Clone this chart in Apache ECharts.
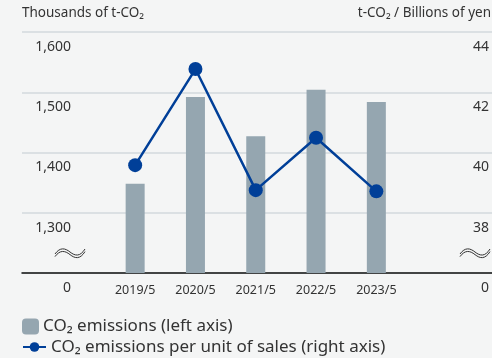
<!DOCTYPE html>
<html>
<head>
<meta charset="utf-8">
<script src="https://cdn.jsdelivr.net/npm/echarts@6/dist/echarts.min.js"></script>
<style>
html,body{margin:0;padding:0;background:#f4f5f5;}
#c{width:492px;height:358px;}
</style>
</head>
<body>
<div id="c"></div>
<script>
const categories = ['2019/5', '2020/5', '2021/5', '2022/5', '2023/5'];
const emissions = [1348, 1492, 1427, 1504, 1484];
const intensity = [39.58, 42.77, 38.75, 40.49, 38.71];
const leftTicks = {min: 1200, max: 1600, interval: 100};
const rightTicks = {min: 36, max: 44, interval: 2};
const barName = 'CO₂ emissions (left axis)';
const lineName = 'CO₂ emissions per unit of sales (right axis)';
const leftTitle = 'Thousands of t-CO₂';
const rightTitle = 't-CO₂ / Billions of yen';

const FONT = '"Noto Sans", "Open Sans", sans-serif';
const TXT = '#333333';

function fmtLeft(v){ return v === leftTicks.min ? '0' : v.toLocaleString('en-US'); }
function fmtRight(v){ return v === rightTicks.min ? '0' : String(v); }

function wave(dy){
  const st = {fill: 'none', stroke: '#333', lineWidth: 1};
  return [
    {type: 'bezierCurve', y: dy, shape: {x1: 0, y1: 6, cpx1: 5, cpy1: -1, cpx2: 10, cpy2: 0, x2: 15, y2: 4}, style: st},
    {type: 'bezierCurve', y: dy, shape: {x1: 15, y1: 4, cpx1: 20, cpy1: 8, cpx2: 25, cpy2: 9, x2: 30, y2: 1}, style: st}
  ];
}
function squiggle(x, y){
  return {type: 'group', x: x, y: y, silent: true, children: wave(0).concat(wave(2.6))};
}

const chart = echarts.init(document.getElementById('c'), null, {renderer: 'canvas'});
chart.setOption({
  backgroundColor: '#f4f5f5',
  animation: false,
  textStyle: {fontFamily: FONT, color: TXT},
  grid: [
    {left: 22, right: 0, top: 32, bottom: 85},
    {left: 105, right: 85.5, top: 32, bottom: 85}
  ],
  xAxis: [
    {gridIndex: 0, type: 'value', min: 0, max: 1,
     axisLine: {show: true, onZero: false, lineStyle: {color: '#111', width: 1.5}},
     axisTick: {show: false}, axisLabel: {show: false}, splitLine: {show: false}},
    {gridIndex: 1, type: 'category', data: categories,
     axisLine: {show: false}, axisTick: {show: false},
     axisLabel: {color: TXT, fontFamily: FONT, fontSize: 12.5, margin: 11}}
  ],
  yAxis: [
    {gridIndex: 0, type: 'value', position: 'left', min: leftTicks.min, max: leftTicks.max, interval: leftTicks.interval,
     axisLine: {show: false}, axisTick: {show: false},
     splitLine: {show: true, lineStyle: {color: '#d3d8dc', width: 1.5}},
     axisLabel: {inside: true, align: 'right', verticalAlign: 'top', margin: 49, padding: [8, 0, 0, 0],
                 color: TXT, fontFamily: FONT, fontSize: 14, formatter: fmtLeft}},
    {gridIndex: 0, type: 'value', position: 'right', min: rightTicks.min, max: rightTicks.max, interval: rightTicks.interval,
     axisLine: {show: false}, axisTick: {show: false}, splitLine: {show: false},
     axisLabel: {inside: true, align: 'right', verticalAlign: 'top', margin: 3, padding: [8, 0, 0, 0],
                 color: TXT, fontFamily: FONT, fontSize: 14, formatter: fmtRight}},
    {gridIndex: 1, type: 'value', min: leftTicks.min, max: leftTicks.max, interval: leftTicks.interval, show: false},
    {gridIndex: 1, type: 'value', min: rightTicks.min, max: rightTicks.max, interval: rightTicks.interval, show: false}
  ],
  legend: [
    {orient: 'vertical', left: 22, top: 318, padding: 0, itemWidth: 17, itemHeight: 16, itemGap: 4,
     data: [barName], textStyle: {fontSize: 17, color: TXT, fontFamily: FONT, padding: [0, 0, 0, -1]}},
    {orient: 'vertical', left: 22, top: 338.5, padding: 0, itemWidth: 23, itemHeight: 12, itemGap: 4,
     data: [lineName], textStyle: {fontSize: 17, color: TXT, fontFamily: FONT}}
  ],
  graphic: [
    {type: 'text', left: 22, top: 6, style: {text: leftTitle, font: '13.5px ' + FONT, fill: TXT}},
    {type: 'text', right: 1, top: 6, style: {text: rightTitle, font: '13.5px ' + FONT, fill: TXT}},
    squiggle(55, 248),
    squiggle(460, 248)
  ],
  series: [
    {name: barName, type: 'bar', xAxisIndex: 1, yAxisIndex: 2, data: emissions, barWidth: 19,
     itemStyle: {color: '#95a6b0'}, z: 2},
    {name: lineName, type: 'line', xAxisIndex: 1, yAxisIndex: 3, data: intensity,
     symbol: 'circle', symbolSize: 14, lineStyle: {color: '#003f98', width: 2.5},
     itemStyle: {color: '#003f98'}, z: 3}
  ]
});
</script>
</body>
</html>
